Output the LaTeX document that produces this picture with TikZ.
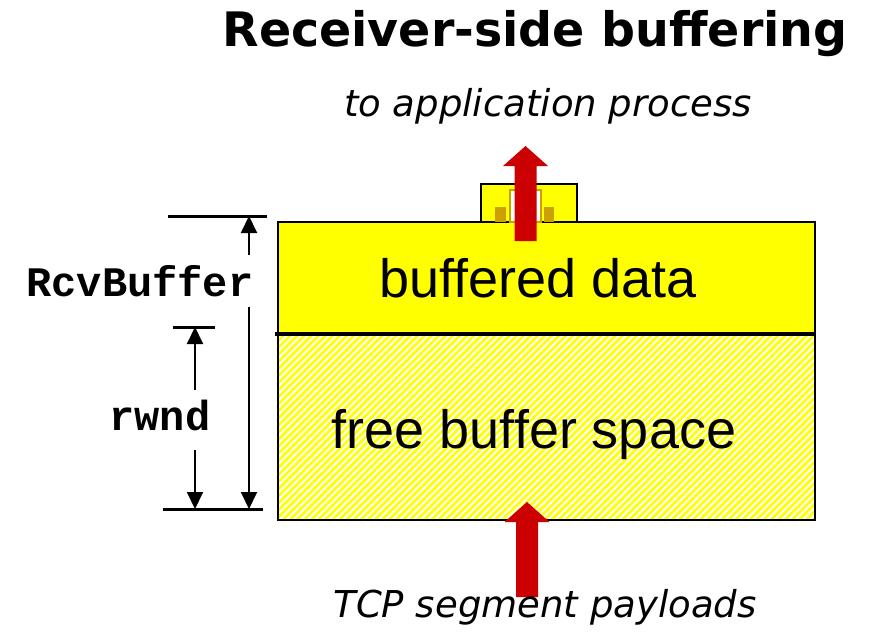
\documentclass[tikz,border=0pt]{standalone}
\usepackage{fontspec}
\usetikzlibrary{arrows.meta,patterns.meta}

\newfontfamily\titlefont{DejaVu Sans}
\newfontfamily\boxfont{Liberation Sans}
\newfontfamily\dimfont{Liberation Mono}

\definecolor{bufyellow}{RGB}{255,255,0}
\definecolor{bufgold}{RGB}{204,160,0}
\definecolor{bufred}{RGB}{204,0,0}

\tikzset{
  dimline/.style={line width=3pt},
  dimarrow/.style={line width=2pt,-{Triangle[length=17pt,width=16pt]}},
  dimtext/.style={anchor=base,inner ysep=2pt,font=\dimfont\bfseries\fontsize{42}{48}\selectfont},
  boxtext/.style={anchor=base,font=\boxfont\fontsize{54}{60}\selectfont},
  flowtext/.style={anchor=base,font=\titlefont\itshape\fontsize{37}{44}\selectfont},
}

% red block arrow: x, tip, foot
\newcommand{\bufarrow}[3]{%
  \fill[bufred] ({#1-11},#3) -- ({#1-11},{#2+20}) -- ({#1-22.5},{#2+20}) -- (#1,#2)
    -- ({#1+22.5},{#2+20}) -- ({#1+11},{#2+20}) -- ({#1+11},#3) -- cycle;}

\begin{document}
\begin{tikzpicture}[x=1pt,y=-1pt]
  \useasboundingbox (0,0) rectangle (871,633);

  \def\bl{278}   % buffer left
  \def\br{815}   % buffer right
  \def\bt{222}   % buffer top
  \def\bm{334}   % top of free space
  \def\bb{520}   % buffer bottom

  % title
  \node[anchor=base,font=\titlefont\bfseries\fontsize{47.5}{56}\selectfont] (title) at (535,46) {Receiver-side buffering};

  % buffer
  \fill[bufyellow] (\bl,\bt) rectangle (\br,\bm);
  \fill[white] (\bl,\bm) rectangle (\br,\bb);
  \fill[pattern={Lines[angle=45,distance=5pt,line width=2.7pt]},pattern color=bufyellow] (\bl,\bm) rectangle (\br,\bb);
  \draw[line width=1.5pt] (\bl,\bt) rectangle (\br,\bb);
  \draw[line width=4pt] (275,\bm) -- (\br,\bm);

  % cell being read out
  \draw[fill=bufyellow,line width=2pt] (481,\bt) rectangle (577,184);
  \draw[fill=white,draw=bufgold,line width=2pt] (510,\bt) rectangle (541,190);
  \fill[bufgold] (495,\bt) rectangle (506,207);
  \fill[bufgold] (544,\bt) rectangle (554,207);

  \node[boxtext] (buffered) at (538,297) {buffered data};
  \node[boxtext] (free) at (534,448) {free buffer space};

  % flows
  \bufarrow{525.5}{146}{241}
  \bufarrow{527}{502}{597}
  \node[flowtext] (toapp) at (548,116) {to application process};
  \node[flowtext] (tcp) at (545,617) {TCP segment payloads};

  % RcvBuffer
  \coordinate (rcvtopl) at (168,216);
  \coordinate (rcvtop) at (249,216);
  \coordinate (rcvtopr) at (267,216);
  \coordinate (botl) at (163,509);
  \coordinate (rcvbot) at (249,509);
  \coordinate (botr) at (263,509);
  \draw[dimline] (rcvtopl) -- (rcvtopr);
  \draw[dimline] (botl) -- (botr);
  \node[dimtext,text height=39pt,text depth=9pt] (rcv) at (140,296) {RcvBuffer};
  \draw[dimarrow] (rcv.north -| rcvtop) -- (rcvtop);
  \draw[dimarrow] (rcv.south -| rcvbot) -- (rcvbot);

  % rwnd
  \coordinate (rwndtopl) at (173,327);
  \coordinate (rwndtop) at (195,327);
  \coordinate (rwndtopr) at (215,327);
  \coordinate (rwndbot) at (195,509);
  \draw[dimline] (rwndtopl) -- (rwndtopr);
  \node[dimtext,text height=38pt,text depth=18pt] (rwnd) at (160,430) {rwnd};
  \draw[dimarrow] (rwnd.north -| rwndtop) -- (rwndtop);
  \draw[dimarrow] (rwnd.south -| rwndbot) -- (rwndbot);

\end{tikzpicture}
\end{document}
